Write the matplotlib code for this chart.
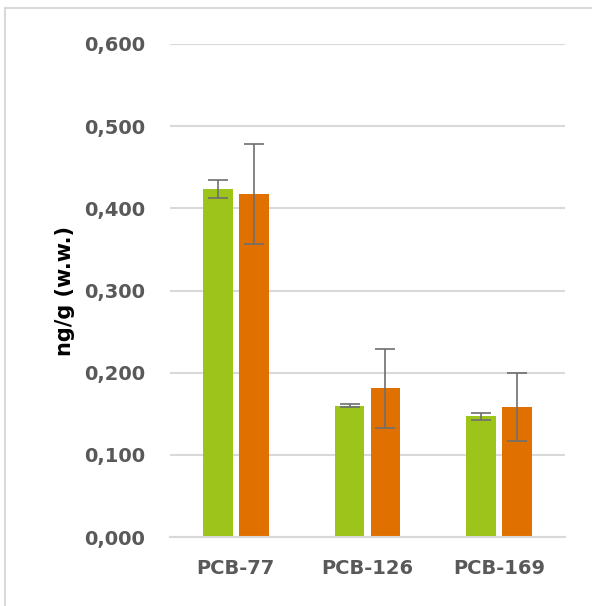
import matplotlib.pyplot as plt
import matplotlib.patches as patches
import numpy as np

# data
categories = ["PCB-77", "PCB-126", "PCB-169"]
green_vals = [0.423, 0.160, 0.147]
green_err = [0.011, 0.002, 0.004]
orange_vals = [0.417, 0.181, 0.158]
orange_err = [0.061, 0.048, 0.041]
yticks = [0.0, 0.1, 0.2, 0.3, 0.4, 0.5, 0.6]

green = '#9dc41a'
orange = '#e07000'
errcol = '#6e6e6e'
tickcol = '#595959'

plt.rc('font', family='DejaVu Sans')
fig = plt.figure(figsize=(5.92, 6.06), dpi=100)
ax = fig.add_axes([170 / 592, 1 - 537 / 606, 395 / 592, 493 / 606])

# frame around the chart area
fig.patches.append(patches.Rectangle((5 / 592, -0.05), 1.2, 1 - 8 / 606 + 0.05,
                                     transform=fig.transFigure, fill=False,
                                     edgecolor='#d9d9d9', linewidth=1.5))

ind = np.arange(len(categories))
width = 0.225
gap = 0.048
ekw = dict(ecolor=errcol, elinewidth=1.2, capsize=7, capthick=1.2)
ax.bar(ind - width / 2 - gap / 2, green_vals, width=width, color=green, zorder=2,
       yerr=green_err, error_kw=ekw)
ax.bar(ind + width / 2 + gap / 2, orange_vals, width=width, color=orange, zorder=2,
       yerr=orange_err, error_kw=ekw)

ax.set_xlim(-0.5, 2.5)
ax.set_ylim(0, 0.6)
ax.set_yticks(yticks)
ax.set_yticklabels([("%.3f" % v).replace('.', ',') for v in yticks])
ax.set_xticks(ind)
ax.set_xticklabels(categories)
ax.yaxis.grid(True, color='#d9d9d9', linewidth=1.5)
ax.set_axisbelow(True)
for s in ['top', 'right', 'left']:
    ax.spines[s].set_visible(False)
ax.spines['bottom'].set_color('#d9d9d9')
ax.spines['bottom'].set_linewidth(1.5)
ax.tick_params(axis='both', length=0, colors=tickcol, labelsize=14)
ax.tick_params(axis='y', pad=18)
ax.tick_params(axis='x', pad=16)
for lab in ax.get_xticklabels() + ax.get_yticklabels():
    lab.set_fontweight('bold')
ax.set_ylabel("ng/g (w.w.)", fontsize=15, fontweight='bold', color='black', labelpad=0)
ax.yaxis.set_label_coords(-0.24, 0.5)

fig.savefig('out.png', dpi=100)
